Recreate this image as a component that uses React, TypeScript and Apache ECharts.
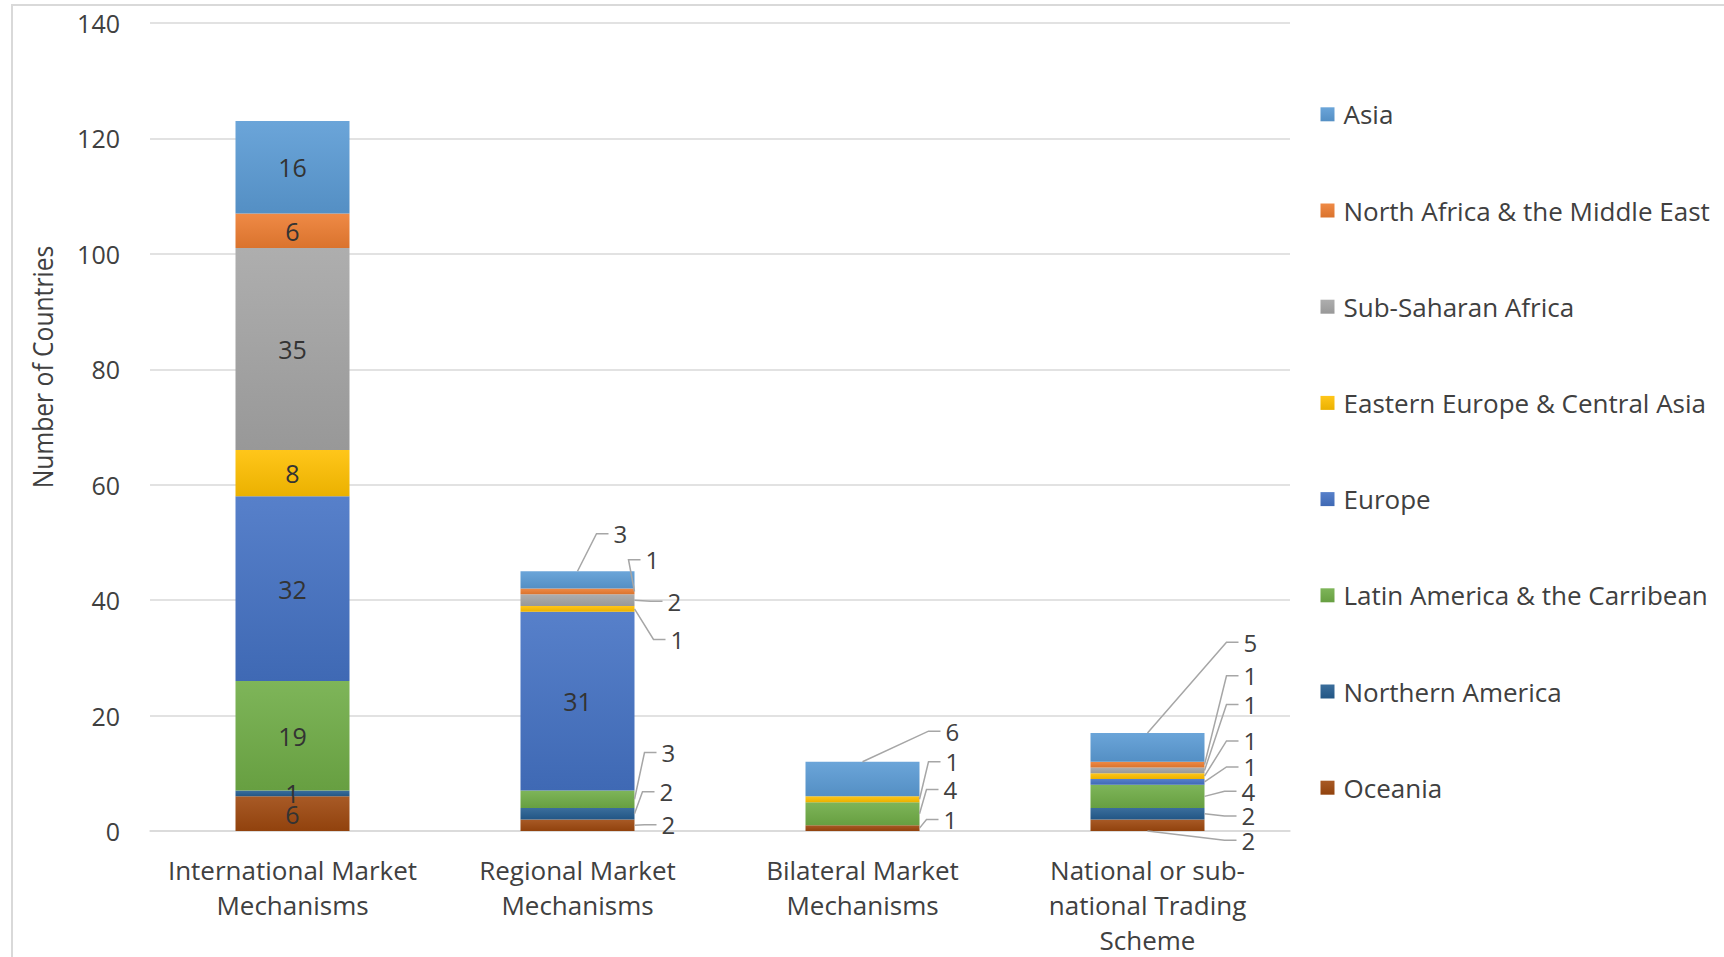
import React, { useEffect, useRef } from "react";
import * as echarts from "echarts";

// ---------- data ----------
const categories = [
  "International Market\nMechanisms",
  "Regional Market\nMechanisms",
  "Bilateral Market\nMechanisms",
  "National or sub-\nnational Trading\nScheme",
];

const yTicks = [0, 20, 40, 60, 80, 100, 120, 140];

const asia = [16, 3, 6, 5];
const northAfricaMiddleEast = [6, 1, 0, 1];
const subSaharanAfrica = [35, 2, 0, 1];
const easternEuropeCentralAsia = [8, 1, 1, 1];
const europe = [32, 31, 0, 1];
const latinAmericaCarribean = [19, 3, 4, 4];
const northernAmerica = [1, 2, 0, 2];
const oceania = [6, 2, 1, 2];

const legendOrder = [
  "Asia",
  "North Africa & the Middle East",
  "Sub-Saharan Africa",
  "Eastern Europe & Central Asia",
  "Europe",
  "Latin America & the Carribean",
  "Northern America",
  "Oceania",
];

// stack order: bottom to top
const stackSeries = [
  { name: "Oceania", values: oceania, color: "#9E480E" },
  { name: "Northern America", values: northernAmerica, color: "#255E91" },
  { name: "Latin America & the Carribean", values: latinAmericaCarribean, color: "#70AD47" },
  { name: "Europe", values: europe, color: "#4472C4" },
  { name: "Eastern Europe & Central Asia", values: easternEuropeCentralAsia, color: "#FFC000" },
  { name: "Sub-Saharan Africa", values: subSaharanAfrica, color: "#A5A5A5" },
  { name: "North Africa & the Middle East", values: northAfricaMiddleEast, color: "#ED7D31" },
  { name: "Asia", values: asia, color: "#5B9BD5" },
];

// ---------- label layout (not data) ----------
// labels drawn inside the bar segment
const insideLabelKeys = new Set<string>([
  "0|Asia",
  "0|North Africa & the Middle East",
  "0|Sub-Saharan Africa",
  "0|Eastern Europe & Central Asia",
  "0|Europe",
  "0|Latin America & the Carribean",
  "0|Northern America",
  "0|Oceania",
  "1|Europe",
]);
// outside labels: [px from bar right edge to label left, label level in axis units, anchor]
const outsideLabelLayout: Record<string, [number, number, string]> = {
  "1|Asia": [-21, 51.5, "top"],
  "1|North Africa & the Middle East": [11, 47.0, "right"],
  "1|Sub-Saharan Africa": [33, 39.8, "right"],
  "1|Eastern Europe & Central Asia": [36, 33.2, "right"],
  "1|Latin America & the Carribean": [27, 13.6, "right"],
  "1|Northern America": [25, 6.8, "right"],
  "1|Oceania": [27, 1.1, "right"],
  "2|Asia": [26, 17.3, "top"],
  "2|Eastern Europe & Central Asia": [26, 12.0, "right"],
  "2|Latin America & the Carribean": [24, 7.2, "right"],
  "2|Oceania": [24, 2.0, "right"],
  "3|Asia": [39, 32.7, "top"],
  "3|North Africa & the Middle East": [39, 26.9, "right"],
  "3|Sub-Saharan Africa": [39, 21.9, "right"],
  "3|Eastern Europe & Central Asia": [39, 15.6, "right"],
  "3|Europe": [39, 11.1, "right"],
  "3|Latin America & the Carribean": [37, 6.9, "right"],
  "3|Northern America": [37, 2.6, "right"],
  "3|Oceania": [37, -1.6, "bottom"],
};

const FONT = "'Open Sans', 'Segoe UI', sans-serif";
const TEXT = "#404040";
const BAR_RATIO = 0.4;

function mix(hex: string, target: number, t: number) {
  const n = parseInt(hex.slice(1), 16);
  const f = (c: number) => Math.round(c + (target - c) * t);
  return `rgb(${f((n >> 16) & 255)},${f((n >> 8) & 255)},${f(n & 255)})`;
}

const anchorCode: Record<string, number> = { right: 0, top: 1, bottom: 2 };

function buildOutsideData() {
  const out: number[][] = [];
  categories.forEach((_, c) => {
    let acc = 0;
    stackSeries.forEach((s) => {
      const v = s.values[c];
      const key = `${c}|${s.name}`;
      if (v > 0 && outsideLabelLayout[key]) {
        const [dx, lv, anchor] = outsideLabelLayout[key];
        out.push([c, acc, acc + v, lv, dx, anchorCode[anchor], v]);
      }
      acc += v;
    });
  });
  return out;
}

export default function App() {
  const ref = useRef<HTMLDivElement>(null);

  useEffect(() => {
    if (!ref.current) return;
    const chart = echarts.init(ref.current, undefined, { renderer: "svg" });

    const barSeries = stackSeries.map((s) => ({
      name: s.name,
      type: "bar",
      stack: "total",
      barWidth: `${BAR_RATIO * 100}%`,
      itemStyle: {
        color: new echarts.graphic.LinearGradient(0, 0, 0, 1, [
          { offset: 0, color: mix(s.color, 255, 0.1) },
          { offset: 1, color: mix(s.color, 0, 0.08) },
        ]),
      },
      label: {
        show: false,
        position: "inside",
        fontFamily: FONT,
        fontSize: 25,
        color: "#333",
      },
      data: s.values.map((v, c) => ({
        value: v,
        label: { show: insideLabelKeys.has(`${c}|${s.name}`) && v > 0 },
      })),
    }));

    const outsideSeries = {
      type: "custom",
      name: "outside-labels",
      silent: true,
      clip: false,
      z: 10,
      encode: { x: 0, y: 3 },
      data: buildOutsideData(),
      renderItem: (params: any, api: any) => {
        const cat = api.value(0);
        const s0 = api.value(1);
        const s1 = api.value(2);
        const lv = api.value(3);
        const dx = api.value(4);
        const anchor = api.value(5);
        const txt = String(api.value(6));
        const band = api.size([1, 0])[0];
        const half = (band * BAR_RATIO) / 2;
        const p0 = api.coord([cat, s0]);
        const p1 = api.coord([cat, s1]);
        const cx = p0[0];
        const right = cx + half;
        const ly = api.coord([cat, lv])[1];
        const left = right + dx;
        let a: number[];
        if (anchor === 1) a = [cx, p1[1]];
        else if (anchor === 2) a = [cx, p0[1]];
        else a = [right, (p0[1] + p1[1]) / 2];
        return {
          type: "group",
          children: [
            {
              type: "polyline",
              shape: { points: [a, [left - 17, ly], [left - 5, ly]] },
              style: { stroke: "#a6a6a6", lineWidth: 1.5, fill: null },
            },
            {
              type: "text",
              x: left,
              y: ly,
              style: {
                text: txt,
                font: `24px ${FONT}`,
                fill: TEXT,
                textAlign: "left",
                textVerticalAlign: "middle",
              },
            },
          ],
        };
      },
    };

    chart.setOption({
      animation: false,
      backgroundColor: "#ffffff",
      grid: { left: 150, right: 434, top: 23, bottom: 125.5, containLabel: false },
      legend: {
        orient: "vertical",
        left: 1315.5,
        top: 96.3,
        itemWidth: 14,
        itemHeight: 14,
        itemGap: 70.2,
        icon: "rect",
        data: legendOrder,
        selectedMode: false,
        textStyle: {
          fontFamily: FONT,
          fontSize: 26,
          lineHeight: 25,
          color: TEXT,
          padding: [0, 0, 0, 4],
        },
      },
      xAxis: {
        type: "category",
        data: categories,
        axisLine: { lineStyle: { color: "#d9d9d9", width: 1.5 } },
        axisTick: { show: false },
        axisLabel: {
          interval: 0,
          margin: 21,
          fontFamily: FONT,
          fontSize: 26,
          lineHeight: 35,
          color: TEXT,
        },
      },
      yAxis: {
        type: "value",
        min: yTicks[0],
        max: yTicks[yTicks.length - 1],
        interval: yTicks[1] - yTicks[0],
        splitLine: { lineStyle: { color: "#d9d9d9", width: 1.5 } },
        axisLine: { show: false },
        axisTick: { show: false },
        axisLabel: { margin: 30, fontFamily: FONT, fontSize: 25, color: TEXT },
      },
      graphic: [
        {
          type: "rect",
          shape: { x: 12, y: 5, width: 1800, height: 1000 },
          style: { fill: "none", stroke: "#d9d9d9", lineWidth: 2 },
          silent: true,
          z: -10,
        },
        {
          type: "text",
          x: 42,
          y: 367,
          rotation: Math.PI / 2,
          scaleX: 0.88,
          style: {
            text: "Number of Countries",
            font: `28px ${FONT}`,
            fill: TEXT,
            textAlign: "center",
            textVerticalAlign: "middle",
          },
        },
      ],
      series: [...barSeries, outsideSeries],
    });

    return () => chart.dispose();
  }, []);

  return (
    <div
      ref={ref}
      style={{ position: "fixed", left: 0, top: 0, width: 1724, height: 957, background: "#fff" }}
    />
  );
}
